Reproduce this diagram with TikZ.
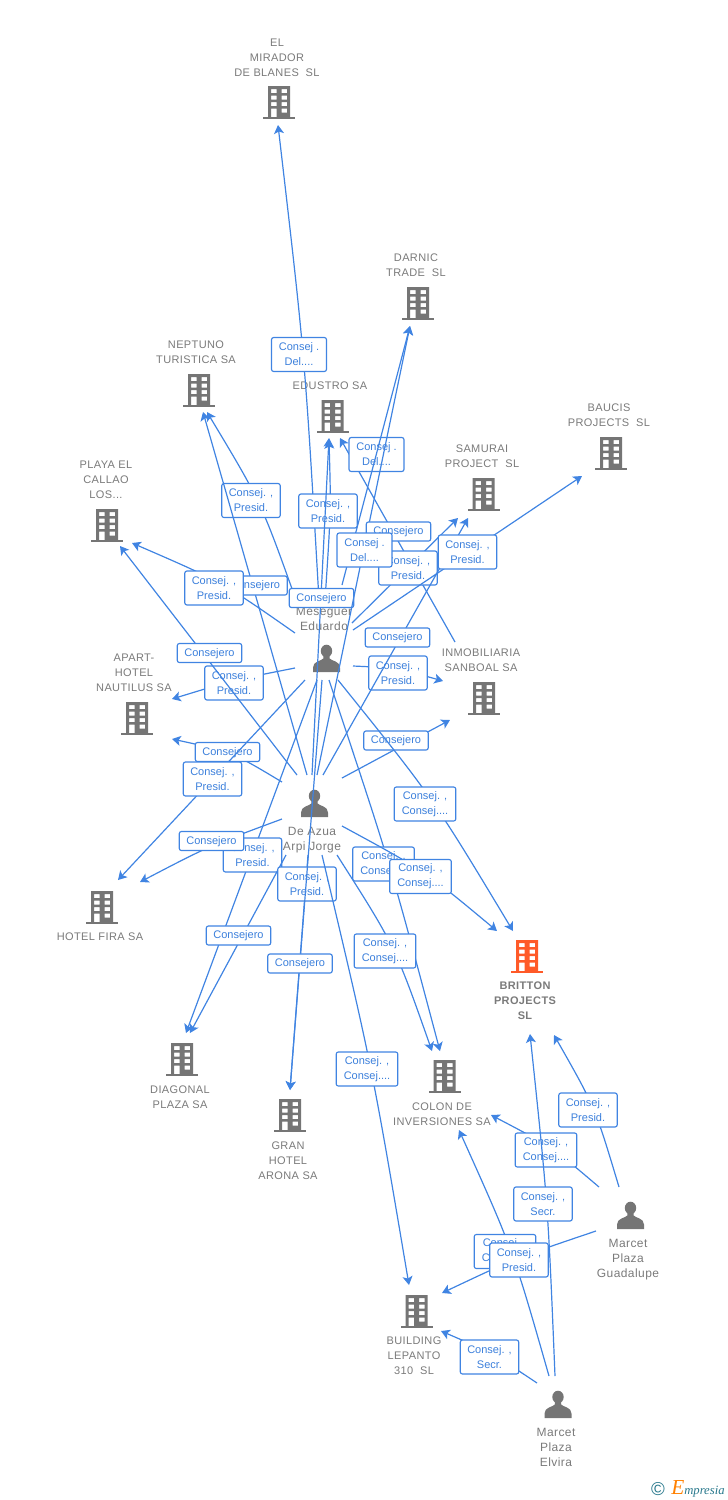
\documentclass[tikz,border=0pt]{standalone}
\usepackage{fontspec}
\setmainfont{Liberation Sans}
\newfontfamily\spacedfont[LetterSpace=3.5]{Liberation Sans}
\newfontfamily\logofont{Liberation Serif}
\usetikzlibrary{arrows.meta}
\definecolor{linkblue}{RGB}{64,132,226}
\definecolor{labelblue}{RGB}{60,128,220}
\definecolor{icongray}{RGB}{117,117,117}
\definecolor{namegray}{RGB}{122,122,122}
\definecolor{hotorange}{RGB}{255,90,40}
\definecolor{logoteal}{RGB}{40,120,140}
\tikzset{
  conn/.style={draw=linkblue,line width=0.9pt,-{Stealth[length=6.5pt,width=7.5pt,inset=1.6pt]}},
  relbox/.style={draw=linkblue,line width=0.85pt,fill=white,rounded corners=1.6pt,text=labelblue,
    font=\fontsize{8.25}{11.25}\selectfont,align=center,inner sep=0pt,minimum height=25.5pt},
  boxpresid/.style={relbox,minimum width=43.8pt},
  boxconsej/.style={relbox,minimum width=46.2pt},
  boxdel/.style={relbox,minimum width=41.2pt},
  boxcons/.style={relbox,minimum width=48.3pt,minimum height=14.3pt,text height=6.6pt},
  coname/.style={text=namegray,font=\spacedfont\fontsize{8.25}{11.25}\selectfont,align=center,inner sep=0pt},
  hotname/.style={text=namegray,font=\spacedfont\bfseries\fontsize{8.25}{11.25}\selectfont,align=center,inner sep=0pt},
  persname/.style={text=namegray,font=\spacedfont\fontsize{9}{11.25}\selectfont,align=center,inner sep=0pt},
  grayicon/.style={fill=icongray},
  hoticon/.style={fill=hotorange},
  building/.pic={
    \fill[pic actions,even odd rule]
      (-11,-16) rectangle (11,15.5)
      (-8,-13) rectangle (-2.5,-9) (2.5,-13) rectangle (8,-9)
      (-8,-6.5) rectangle (-2.5,-2.5) (2.5,-6.5) rectangle (8,-2.5)
      (-8,0) rectangle (-2.5,4) (2.5,0) rectangle (8,4)
      (-8,6.5) rectangle (-2.5,15.5) (2.5,6.5) rectangle (8,10.5);
    \fill[pic actions] (-16,15) rectangle (16,17);
  },
  person/.pic={
    \fill[icongray] (0,-7.5) ellipse (5.7 and 6.3);
    \fill[icongray] (-3.2,-3) -- (-3.2,0) .. controls (-5,2.5) and (-13.5,2.5) .. (-13.5,9)
      -- (-13.5,13.5) -- (13.5,13.5) -- (13.5,9) .. controls (13.5,2.5) and (5,2.5) .. (3.2,0) -- (3.2,-3) -- cycle;
  }
}
\newcommand{\linkstraight}[3]{\coordinate (#1a) at (#2); \coordinate (#1b) at (#3); \path[conn] (#1a) -- (#1b);}
\newcommand{\linkcurved}[4]{\coordinate (#1a) at (#2); \coordinate (#1b) at (#4); \path[conn] (#1a) .. controls (#3) .. (#1b);}
\begin{document}
\begin{tikzpicture}[x=0.75pt,y=-0.75pt]
\useasboundingbox (0,0) rectangle (728,1500);
% company names
\node[coname] (nMirador) at (277,58) {EL\\MIRADOR\\DE BLANES\ \ SL};
\node[coname] (nDarnic) at (416,265.5) {DARNIC\\TRADE\ \ SL};
\node[coname] (nNeptuno) at (196,352) {NEPTUNO\\TURISTICA SA};
\node[coname] (nEdustro) at (330,385.5) {EDUSTRO SA};
\node[coname] (nSamurai) at (482,456) {SAMURAI\\PROJECT\ \ SL};
\node[coname] (nBaucis) at (609,415) {BAUCIS\\PROJECTS\ \ SL};
\node[coname] (nPlaya) at (106,479.5) {PLAYA EL\\CALLAO\\LOS...};
\node[coname] (nApart) at (134,672.5) {APART-\\HOTEL\\NAUTILUS SA};
\node[coname] (nInmob) at (481,660) {INMOBILIARIA\\SANBOAL SA};
\node[coname] (nFira) at (100,936.5) {HOTEL FIRA SA};
\node[coname] (nDiagonal) at (180,1097) {DIAGONAL\\PLAZA SA};
\node[coname] (nGran) at (288,1160.5) {GRAN\\HOTEL\\ARONA SA};
\node[coname] (nColon) at (442,1114) {COLON DE\\INVERSIONES SA};
\node[hotname] (nBritton) at (525,1001) {BRITTON\\PROJECTS\\SL};
\node[coname] (nBuilding) at (414,1355.5) {BUILDING\\LEPANTO\\310\ \ SL};
% person names
\node[persname] (nMeseguer) at (324,619) {Meseguer\\Eduardo};
\node[persname] (nAzua) at (312,840) {De Azua\\Arpi Jorge};
\node[persname] (nGuadalupe) at (628,1259.5) {Marcet\\Plaza\\Guadalupe};
\node[persname] (nElvira) at (556,1447.5) {Marcet\\Plaza\\Elvira};
% icons
\pic[grayicon] at (279,102) {building};
\pic[grayicon] at (418,303) {building};
\pic[grayicon] at (199,390) {building};
\pic[grayicon] at (332.5,416) {building};
\pic[grayicon] at (483.5,494) {building};
\pic[grayicon] at (611,453) {building};
\pic[grayicon] at (107,525) {building};
\pic[grayicon] at (137,718) {building};
\pic[grayicon] at (484,698) {building};
\pic[grayicon] at (102,907) {building};
\pic[grayicon] at (182,1059) {building};
\pic[grayicon] at (290,1115) {building};
\pic[grayicon] at (444.5,1076) {building};
\pic[hoticon] at (527,956) {building};
\pic[grayicon] at (416.5,1311) {building};
\pic at (326.5,658.5) {person};
\pic at (314.5,803.5) {person};
\pic at (630.5,1215.5) {person};
\pic at (558,1404.5) {person};
% links and their relation boxes, in stacking order
\linkcurved{mirM}{319,600}{305,357}{278,125}
\node[boxdel] (bMirM) at (299,354.5) {Consej .\\Del....};
\linkstraight{eduI}{455,642}{340,438}
\node[boxdel] (bEduI) at (376.5,454.5) {Consej .\\Del....};
\linkcurved{nepM}{296,600}{261,502}{207,412}
\node[boxpresid] (bNepM) at (251,500.5) {Consej. ,\\Presid.};
\linkcurved{eduM}{325,600}{331,510}{329,440}
\node[boxpresid] (bEduM) at (328,511) {Consej. ,\\Presid.};
\linkstraight{nepD}{307,775}{203,412}
\node[boxcons] (bNepD) at (255,585.5) {Consejero};
\linkcurved{plaM}{295,633}{222,582}{132,543}
\node[boxpresid] (bPlaM) at (214,588) {Consej. ,\\Presid.};
\linkstraight{eduD}{312,775}{329,438}
\node[boxcons] (bEduD) at (321.5,598) {Consejero};
\linkstraight{darM}{342,585}{410,326}
\linkstraight{darD}{317,775}{410,326}
\node[boxcons] (bSamX) at (398.5,531.5) {Consejero};
\linkstraight{samM}{352,623}{458,518}
\node[boxpresid] (bSamM) at (408,568) {Consej. ,\\Presid.};
\node[boxdel] (bDarM) at (364.5,550) {Consej .\\Del....};
\linkcurved{inmM}{353,666}{397,668}{443,681}
\node[boxpresid] (bInmM) at (398,673) {Consej. ,\\Presid.};
\linkstraight{samD}{323,775}{468,518}
\node[boxcons] (bSamD) at (397.5,637.5) {Consejero};
\linkstraight{bauM}{353,630}{582,476}
\node[boxpresid] (bBauM) at (467.5,552) {Consej. ,\\Presid.};
\linkcurved{apaM}{295,668}{234,680}{172,699}
\node[boxpresid] (bApaM) at (234,683) {Consej. ,\\Presid.};
\linkstraight{plaD}{297,775}{120,546}
\node[boxcons] (bPlaD) at (209.5,653) {Consejero};
\linkcurved{apaD}{282,782}{232,752}{172,739}
\node[boxcons] (bApaD) at (227.5,752) {Consejero};
\linkstraight{firM}{305,680}{118,880}
\node[boxpresid] (bFirM) at (212.5,779) {Consej. ,\\Presid.};
\linkstraight{inmD}{342,778}{450,720}
\node[boxcons] (bInmD) at (396,740.5) {Consejero};
\linkcurved{briM}{338,680}{433,798}{513,931}
\node[boxconsej] (bBriM) at (425,804) {Consej. ,\\Consej....};
\linkstraight{diaM}{317,680}{186,1033}
\node[boxpresid] (bDiaM) at (252.5,855) {Consej. ,\\Presid.};
\linkcurved{firD}{282,819}{209,846}{140,882}
\node[boxcons] (bFirD) at (211.5,841) {Consejero};
\linkstraight{diaD}{286,855}{190,1033}
\node[boxcons] (bDiaD) at (238.5,935.5) {Consejero};
\linkstraight{graD}{308,855}{290,1090}
\node[boxpresid] (bGraD) at (307,884) {Consej. ,\\Presid.};
\linkstraight{graM}{322,680}{290,1090}
\node[boxcons] (bGraM) at (300,963.5) {Consejero};
\linkcurved{bldD}{322,855}{372,1066}{409,1285}
\node[boxconsej] (bBldD) at (367,1069) {Consej. ,\\Consej....};
\linkcurved{colM}{329,680}{390,863}{440,1051}
\node[boxconsej] (bColM) at (383.5,864) {Consej. ,\\Consej....};
\linkcurved{briD}{342,826}{425,871}{497,931}
\node[boxconsej] (bBriD) at (420.5,876.5) {Consej. ,\\Consej....};
\linkcurved{colD}{337,855}{395,946}{432,1051}
\node[boxconsej] (bColD) at (385,951) {Consej. ,\\Consej....};
\linkcurved{briG}{619,1187}{595,1107}{554,1035}
\node[boxpresid] (bBriG) at (588,1110) {Consej. ,\\Presid.};
\linkcurved{colG}{599,1187}{552,1147}{491,1115}
\node[boxconsej] (bColG) at (546,1150) {Consej. ,\\Consej....};
\linkcurved{colE}{549,1376}{513,1250}{459,1130}
\node[boxconsej] (bColE) at (505,1251.5) {Consej. ,\\Consej....};
\linkcurved{bldG}{596,1231}{516,1258}{442,1293}
\node[boxpresid] (bBldG) at (519,1260) {Consej. ,\\Presid.};
\linkcurved{briE}{555,1376}{548,1205}{530,1034}
\node[boxpresid] (bBriE) at (543,1204) {Consej. ,\\Secr.};
\linkcurved{bldE}{537,1383}{492,1353}{441,1331}
\node[boxpresid] (bBldE) at (489.5,1357) {Consej. ,\\Secr.};
% logo
\node[text=logoteal,font=\fontsize{14}{14}\selectfont,inner sep=0pt] (logoC) at (658,1489) {©};
\node[anchor=base west,inner sep=0pt,font=\logofont\itshape] (logoT) at (671,1494)
  {\textcolor{orange}{\fontsize{16}{16}\selectfont E}\textcolor{logoteal}{\fontsize{9.5}{9.5}\selectfont mpresia}};
\end{tikzpicture}
\end{document}
